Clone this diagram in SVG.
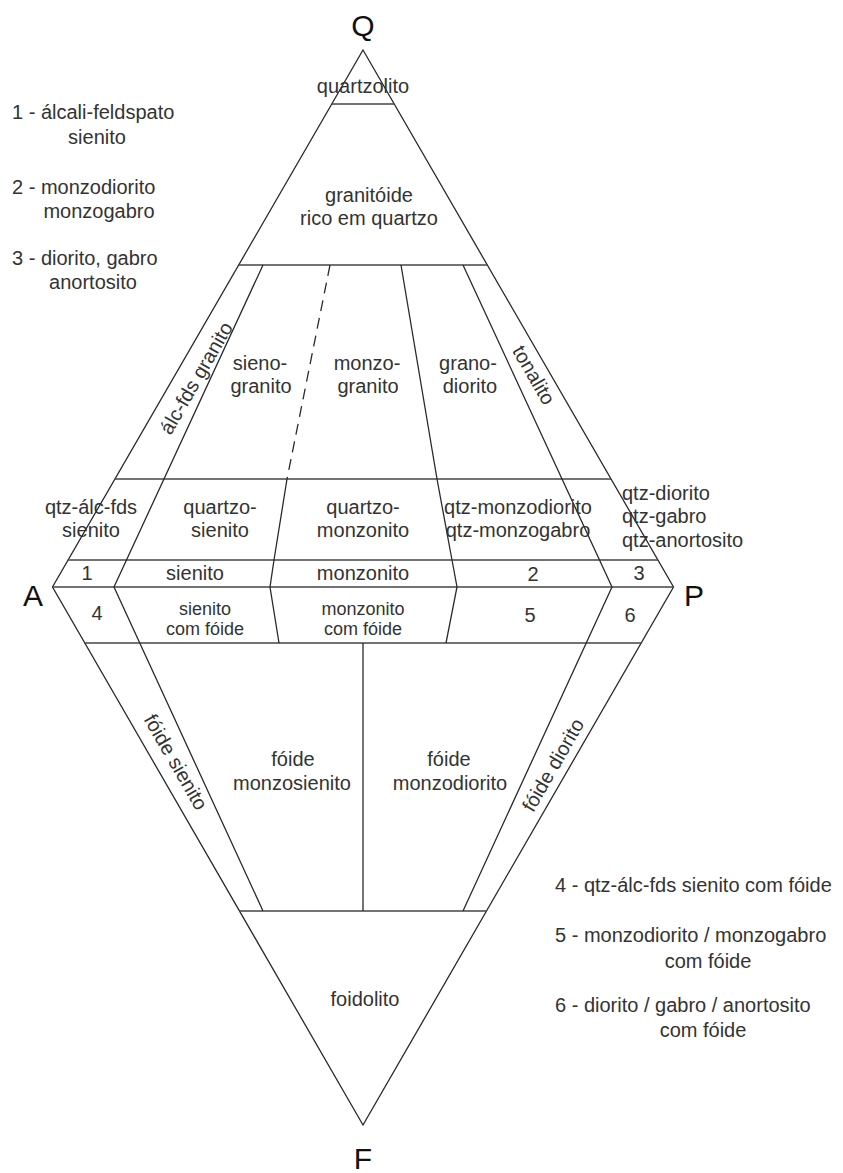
<svg xmlns="http://www.w3.org/2000/svg" width="843" height="1173" viewBox="0 0 843 1173">
<style>
.ln{stroke:#2a2a2a;stroke-width:1.3;fill:none;stroke-linejoin:miter}
.hz{stroke:#444;stroke-width:1.6;fill:none}
.dash{stroke:#2a2a2a;stroke-width:1.3;fill:none;stroke-dasharray:11,7}
.t{font-family:"Liberation Sans",Arial,sans-serif;font-size:20px;fill:#333}
.s{font-size:18px}
.c{text-anchor:middle}
.big{font-family:"Liberation Sans",Arial,sans-serif;font-size:30px;fill:#111;text-anchor:middle}
</style>
<rect width="843" height="1173" fill="#fff"/>
<g id="connectors">
  <polygon class="ln" points="363,50 673.5,587 363,1125 52.5,587"/>
  <line class="hz" x1="52.5" y1="587" x2="673.5" y2="587"/>
  <line class="hz" x1="331.8" y1="104" x2="394.2" y2="104"/>
  <line class="hz" x1="238.7" y1="265" x2="487.3" y2="265"/>
  <line class="hz" x1="115" y1="479" x2="611" y2="479"/>
  <line class="hz" x1="68.1" y1="560" x2="657.9" y2="560"/>
  <line class="hz" x1="84.3" y1="643" x2="641.7" y2="643"/>
  <line class="hz" x1="239.3" y1="911" x2="486.7" y2="911"/>
  <polyline class="ln" points="263,265 114,587 263,911"/>
  <polyline class="ln" points="463,265 612,587 463,911"/>
  <polyline class="dash" points="330,265 287,479"/>
  <polyline class="ln" points="287,479 274,560 270,587 279,643"/>
  <polyline class="ln" points="401,265 437,479 452,560 457,587 446,643"/>
  <line class="ln" x1="363" y1="643" x2="363" y2="911"/>
</g>
<g id="vertices">
  <text id="Q" class="big" x="363" y="36">Q</text>
  <text id="A" class="big" x="33" y="606">A</text>
  <text id="P" class="big" x="694" y="606">P</text>
  <text id="F" class="big" x="363" y="1169">F</text>
</g>
<g id="legend-top">
  <text class="t" x="12" y="119">1 - álcali-feldspato</text>
  <text class="t c" x="97" y="144">sienito</text>
  <text class="t" x="12" y="194">2 - monzodiorito</text>
  <text class="t c" x="99" y="218">monzogabro</text>
  <text class="t" x="12" y="265">3 - diorito, gabro</text>
  <text class="t c" x="93" y="289">anortosito</text>
</g>
<g id="legend-bottom">
  <text class="t" x="555" y="892">4 - qtz-álc-fds sienito com fóide</text>
  <text class="t" x="555" y="942">5 - monzodiorito / monzogabro</text>
  <text class="t c" x="708" y="968">com fóide</text>
  <text class="t" x="555" y="1012">6 - diorito / gabro / anortosito</text>
  <text class="t c" x="703" y="1037">com fóide</text>
</g>
<g id="quartzolito"><text class="t c" x="363" y="93">quartzolito</text></g>
<g id="granitoide"><text class="t c" x="369" y="202">granitóide</text><text class="t c" x="369" y="225">rico em quartzo</text></g>
<g id="alc-fds-granito"><text class="t c" transform="translate(196,378) rotate(-60)" x="0" y="7">álc-fds granito</text></g>
<g id="sienogranito"><text class="t c" x="260" y="370">sieno-</text><text class="t c" x="261" y="393">granito</text></g>
<g id="monzogranito"><text class="t c" x="367" y="370">monzo-</text><text class="t c" x="368" y="393">granito</text></g>
<g id="granodiorito"><text class="t c" x="468" y="370">grano-</text><text class="t c" x="470" y="393">diorito</text></g>
<g id="tonalito"><text class="t c" transform="translate(534,375) rotate(60)" x="0" y="7">tonalito</text></g>
<g id="qtz-alc-fds-sienito"><text class="t c" x="91" y="514">qtz-álc-fds</text><text class="t c" x="91" y="537">sienito</text></g>
<g id="quartzo-sienito"><text class="t c" x="220" y="514">quartzo-</text><text class="t c" x="220" y="537">sienito</text></g>
<g id="quartzo-monzonito"><text class="t c" x="363" y="514">quartzo-</text><text class="t c" x="363" y="537">monzonito</text></g>
<g id="qtz-monzodiorito"><text class="t c" x="518" y="514">qtz-monzodiorito</text><text class="t c" x="518" y="537">qtz-monzogabro</text></g>
<g id="qtz-diorito"><text class="t" x="622" y="500">qtz-diorito</text><text class="t" x="622" y="523">qtz-gabro</text><text class="t" x="622" y="547">qtz-anortosito</text></g>
<g id="r1"><text class="t c" x="87" y="580">1</text></g>
<g id="sienito"><text class="t c" x="195" y="580">sienito</text></g>
<g id="monzonito"><text class="t c" x="363" y="580">monzonito</text></g>
<g id="r2"><text class="t c" x="533" y="581">2</text></g>
<g id="r3"><text class="t c" x="639" y="580">3</text></g>
<g id="r4"><text class="t c" x="97" y="620">4</text></g>
<g id="sienito-foide"><text class="t s c" x="205" y="615">sienito</text><text class="t s c" x="205" y="635">com fóide</text></g>
<g id="monzonito-foide"><text class="t s c" x="363" y="615">monzonito</text><text class="t s c" x="363" y="635">com fóide</text></g>
<g id="r5"><text class="t c" x="530" y="622">5</text></g>
<g id="r6"><text class="t c" x="630" y="622">6</text></g>
<g id="foide-sienito"><text class="t c" transform="translate(176,762) rotate(60)" x="0" y="7">fóide sienito</text></g>
<g id="foide-monzosienito"><text class="t c" x="293" y="766">fóide</text><text class="t c" x="292" y="790">monzosienito</text></g>
<g id="foide-monzodiorito"><text class="t c" x="449" y="766">fóide</text><text class="t c" x="450" y="790">monzodiorito</text></g>
<g id="foide-diorito"><text class="t c" transform="translate(553,765) rotate(-60)" x="0" y="7">fóide diorito</text></g>
<g id="foidolito"><text class="t c" x="365" y="1006">foidolito</text></g>
</svg>
